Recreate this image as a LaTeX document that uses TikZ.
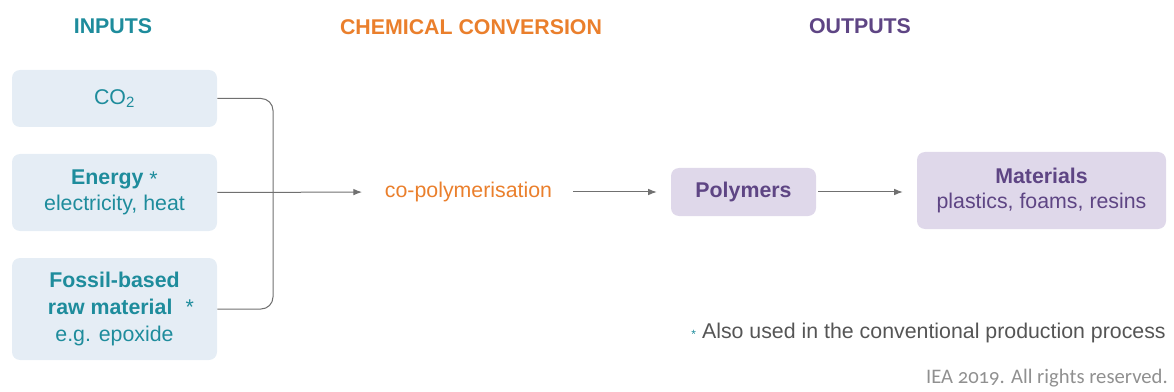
\documentclass[tikz,border=0pt]{standalone}
\usepackage{fontspec}
\setmainfont{Liberation Sans}
\newfontfamily\ieafont[Numbers=OldStyle]{Carlito}
\usetikzlibrary{positioning,arrows.meta}
\definecolor{inteal}{HTML}{1E8C9C}
\definecolor{infill}{HTML}{E5EDF5}
\definecolor{outpurple}{HTML}{5E4584}
\definecolor{outfill}{HTML}{DFD8EA}
\definecolor{convorange}{HTML}{EA7F2C}
\definecolor{linegrey}{HTML}{707070}
\definecolor{notegrey}{HTML}{555555}
\definecolor{ieagrey}{HTML}{909090}

\begin{document}
\begin{tikzpicture}[x=0.75pt,y=-0.75pt,
  every node/.style={font=\fontsize{16}{19}\selectfont},
  head/.style={font=\fontsize{16}{19}\selectfont\bfseries},
  inbox/.style={fill=infill,rounded corners=6pt,text=inteal,align=center,minimum width=153.75pt},
  outbox/.style={fill=outfill,rounded corners=6pt,text=outpurple,align=center},
  conn/.style={draw=linegrey,line width=0.75pt},
  arr/.style={conn,-{Latex[length=6.5pt,width=5pt]}}]
\useasboundingbox (0,0) rectangle (1174,392);

% headings
\node[head,text=inteal] (inputs) at (113,26) {INPUTS};
\node[head,text=convorange] (chem) at (471,27) {CHEMICAL CONVERSION};
\node[head,text=outpurple] (outputs) at (860,26) {OUTPUTS};

% inputs
\node[inbox,minimum height=42.75pt] (co2) at (114.5,98.5) {CO\textsubscript{2}};
\node[inbox,minimum height=57.75pt] (energy) at (114.5,192.5) {\textbf{Energy} \raisebox{-0.15ex}{*}\\electricity, heat};
\node[inbox,minimum height=76.5pt,font=\fontsize{16}{20}\selectfont] (fossil) at (114.5,309) {\textbf{Fossil-based}\\\hspace*{0.6em}\textbf{raw material}\,\, *\\e.g. epoxide};

% conversion and outputs
\node[text=convorange,inner xsep=0pt] (copoly) at (468.5,192) {co-polymerisation};
\node[outbox,minimum width=108.75pt,minimum height=36pt] (polymers) at (743.5,192) {\textbf{Polymers}};
\node[outbox,minimum width=186.75pt,minimum height=57.75pt] (materials) at (1041.5,190.5) {\textbf{Materials}\\plastics, foams, resins};

% connectors
\coordinate (bend) at (273,192);
\draw[conn,rounded corners=9pt] (co2.east) -| (bend) |- (fossil.east);
\draw[arr,shorten >=17pt] (energy.east) -- (copoly.west);
\draw[arr,shorten <=15.5pt,shorten >=10.5pt] (copoly.east) -- (polymers.west);
\draw[arr,shorten <=1.5pt,shorten >=10.5pt] (polymers.east) -- (polymers.east -| materials.west);

% notes
\node[anchor=east,text=notegrey,inner sep=0pt] (note) at (1166,333) {\textcolor{inteal}{\small *} Also used in the conventional production process};
\node[anchor=east,text=ieagrey,inner sep=0pt,font=\ieafont\fontsize{15.5}{18}\selectfont] (iea) at (1168,378) {IEA 2019. All rights reserved.};
\end{tikzpicture}
\end{document}
